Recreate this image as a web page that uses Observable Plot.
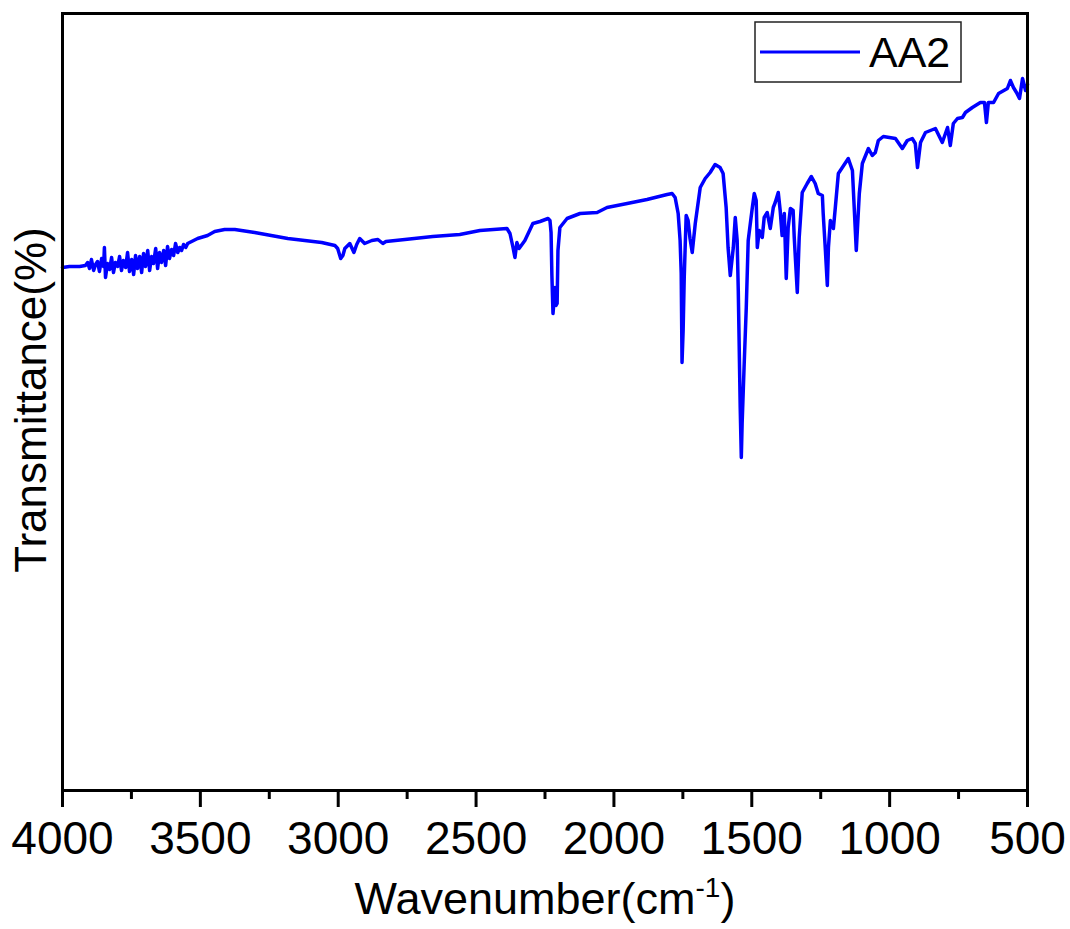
<!DOCTYPE html>
<html>
<head>
<meta charset="utf-8">
<script src="https://cdn.jsdelivr.net/npm/d3@7"></script>
<script src="https://cdn.jsdelivr.net/npm/@observablehq/plot@0.6"></script>
<style>
  html, body { margin: 0; padding: 0; background: #fff; }
  #chart svg { display: block; }
</style>
</head>
<body>
<div id="chart"></div>
<script>
// FTIR spectrum of sample AA2: [wavenumber (cm-1), transmittance (a.u.)]
const seriesName = "AA2";
const spectrum = [
  [4000, 52.1], [3975, 52.2], [3938, 52.2], [3917, 52.3],
  [3909, 52.6], [3902, 52.0], [3895, 52.9], [3887, 51.8], [3880, 52.4],
  [3873, 52.7], [3866, 51.7], [3858, 53.0], [3851, 52.2], [3848, 54.1],
  [3844, 51.1], [3837, 52.5], [3829, 51.9], [3822, 53.1], [3815, 51.6],
  [3808, 52.6], [3800, 52.2], [3793, 53.2], [3786, 51.8], [3779, 52.8],
  [3771, 52.1], [3764, 53.6], [3757, 51.7], [3749, 52.9], [3742, 51.4],
  [3735, 53.3], [3728, 52.0], [3720, 53.2], [3713, 51.6], [3706, 53.5],
  [3699, 52.2], [3691, 53.8], [3684, 51.8], [3677, 53.2], [3670, 52.5],
  [3662, 54.0], [3655, 52.0], [3648, 53.6], [3641, 52.6], [3633, 53.8],
  [3626, 52.3], [3619, 54.2], [3612, 53.0], [3604, 53.9], [3597, 53.3],
  [3590, 54.5], [3582, 53.6], [3575, 54.1], [3568, 53.8], [3561, 54.4],
  [3553, 54.1], [3546, 54.5],
  [3510, 55.0], [3474, 55.3], [3448, 55.7], [3412, 55.9], [3375, 55.9],
  [3303, 55.6], [3183, 55.0], [3060, 54.6], [3012, 54.3], [3002, 54.0],
  [2991, 53.0], [2983, 53.3], [2976, 54.0], [2958, 54.5], [2943, 53.6],
  [2933, 54.4], [2922, 55.0], [2904, 54.5], [2878, 54.8], [2856, 54.9],
  [2838, 54.5], [2827, 54.7], [2758, 54.9], [2657, 55.2], [2559, 55.4],
  [2486, 55.8], [2388, 56.0], [2377, 55.5], [2366, 54.1], [2359, 53.1],
  [2352, 54.6], [2344, 54.0], [2323, 54.8], [2294, 56.5], [2268, 56.7],
  [2239, 57.0], [2232, 56.8], [2228, 55.6], [2225, 51.3], [2221, 47.5],
  [2217, 48.8], [2214, 50.1], [2210, 48.3], [2206, 48.5], [2203, 53.8],
  [2196, 56.1], [2170, 57.0], [2123, 57.5], [2061, 57.6], [2025, 58.1],
  [1952, 58.5], [1880, 58.9], [1807, 59.4], [1789, 59.5], [1778, 59.1],
  [1767, 57.5], [1760, 54.8], [1756, 51.5], [1753, 42.6], [1749, 45.8],
  [1745, 51.1], [1738, 57.3], [1731, 56.8], [1724, 55.0], [1716, 53.6],
  [1705, 56.5], [1687, 60.1], [1669, 61.0], [1651, 61.6], [1633, 62.4],
  [1615, 62.1], [1604, 61.5], [1593, 58.1], [1586, 54.1], [1578, 51.3],
  [1567, 54.1], [1560, 57.1], [1553, 54.8], [1549, 49.8], [1546, 44.8],
  [1542, 38.1], [1538, 33.1], [1535, 36.5], [1528, 42.1], [1520, 48.1],
  [1513, 54.8], [1498, 58.1], [1491, 59.5], [1484, 58.8], [1480, 54.1],
  [1473, 55.8], [1462, 55.1], [1455, 57.1], [1444, 57.6], [1433, 56.0],
  [1422, 58.1], [1415, 58.6], [1404, 59.6], [1397, 57.8], [1390, 55.3],
  [1382, 57.5], [1375, 51.0], [1368, 56.1], [1360, 58.0], [1350, 57.8],
  [1346, 55.1], [1335, 49.6], [1328, 55.1], [1317, 59.6], [1299, 60.5],
  [1284, 61.2], [1270, 60.5], [1259, 59.5], [1244, 59.3], [1241, 57.5],
  [1233, 53.8], [1226, 50.3], [1222, 54.1], [1215, 56.8], [1204, 56.0],
  [1197, 58.1], [1186, 61.5], [1150, 63.0], [1135, 61.8], [1128, 57.8],
  [1121, 53.8], [1110, 59.5], [1099, 62.5], [1077, 64.0], [1063, 63.3],
  [1052, 63.6], [1041, 64.8], [1023, 65.2], [979, 65.0], [954, 64.0],
  [936, 64.8], [918, 65.0], [907, 64.5], [899, 62.1], [888, 64.6],
  [870, 65.6], [834, 66.0], [809, 64.6], [790, 66.1], [780, 64.3],
  [769, 66.5], [754, 67.0], [736, 67.1], [725, 67.6], [700, 68.1],
  [671, 68.6], [656, 68.6], [649, 66.6], [642, 68.6], [623, 68.6],
  [605, 69.5], [573, 70.0], [562, 70.8], [551, 70.1], [540, 69.6],
  [529, 69.0], [518, 71.0], [507, 69.8], [500, 70.4]
];
const majorTicks = [4000, 3500, 3000, 2500, 2000, 1500, 1000, 500];
const minorTicks = [3750, 3250, 2750, 2250, 1750, 1250, 750];
const xTitle = "Wavenumber(cm";
const xTitleSup = "-1";
const yTitle = "Transmittance(%)";

const lineColor = "#0000ff";
const font = "Arial, 'Liberation Sans', Helvetica, sans-serif";

const W = 1070, H = 929;
const chart = Plot.plot({
  width: W,
  height: H,
  marginLeft: 62,
  marginRight: 43,
  marginTop: 13,
  marginBottom: 139,
  style: { fontFamily: font, background: "#fff", overflow: "visible" },
  x: { domain: [4000, 500] },
  y: { domain: [-0.2, 77.5], axis: null },
  marks: [
    Plot.line(spectrum, { x: d => d[0], y: d => d[1], stroke: lineColor, strokeWidth: 3.5, strokeLinejoin: "round", strokeLinecap: "round" }),
    Plot.axisX({ ticks: minorTicks, tickSize: 9, tickFormat: () => "", strokeWidth: 3, label: null }),
    Plot.axisX({ ticks: majorTicks, tickSize: 17, tickPadding: 14, strokeWidth: 3, fontSize: 46, tickFormat: d => String(d), label: null }),
    Plot.frame({ stroke: "#000", strokeWidth: 3 })
  ]
});
document.getElementById("chart").appendChild(chart);

const svg = d3.select(chart);
// thicker tick strokes to match the heavy frame
svg.selectAll("g[aria-label='x-axis tick'] path").attr("stroke-width", 3);

// Axis titles
const xt = svg.append("text")
  .attr("x", 545).attr("y", 914)
  .attr("text-anchor", "middle")
  .attr("font-family", font).attr("font-size", 45).attr("fill", "#000");
xt.append("tspan").text(xTitle);
xt.append("tspan").attr("font-size", 28).attr("dy", -17).text(xTitleSup);
xt.append("tspan").attr("dy", 17).text(")");

svg.append("text")
  .attr("transform", "translate(46,400) rotate(-90)")
  .attr("text-anchor", "middle")
  .attr("font-family", font).attr("font-size", 44).attr("fill", "#000")
  .text(yTitle);

// Legend
const lg = svg.append("g");
lg.append("rect").attr("x", 755).attr("y", 22).attr("width", 206).attr("height", 60)
  .attr("fill", "#fff").attr("stroke", "#222").attr("stroke-width", 1.5);
lg.append("line").attr("x1", 760).attr("x2", 860).attr("y1", 52).attr("y2", 52)
  .attr("stroke", lineColor).attr("stroke-width", 3);
lg.append("text").attr("x", 869).attr("y", 67)
  .attr("text-anchor", "start")
  .attr("font-family", font).attr("font-size", 43).attr("fill", "#000")
  .text(seriesName);
</script>
</body>
</html>
